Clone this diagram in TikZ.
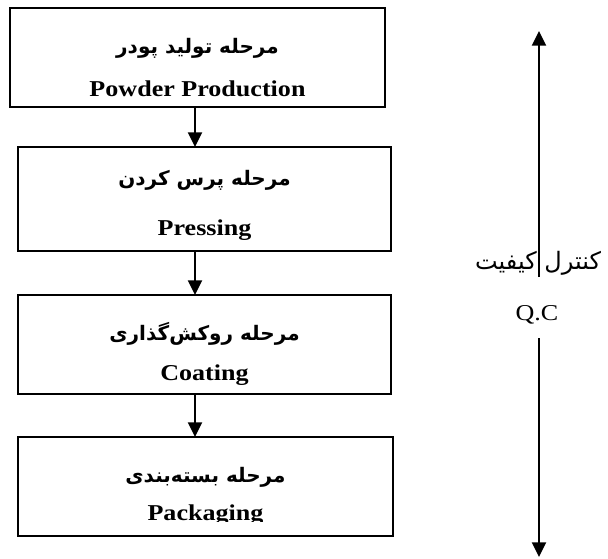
\documentclass[tikz,border=0pt]{standalone}
\usepackage{fontspec}
\setmainfont{Liberation Serif}[FakeStretch=1.15]
\newfontfamily\arabicfont[Script=Arabic]{DejaVu Sans}
\TeXXeTstate=1
\usetikzlibrary{arrows.meta,calc}
\tikzset{
	stagebox/.style={draw, line width=1.6pt, inner sep=0pt, outer sep=0pt},
	fatext/.style={font=\arabicfont\bfseries\fontsize{15}{18}\selectfont, inner sep=0pt},
	entext/.style={font=\bfseries\fontsize{17}{20}\selectfont, inner sep=0pt, anchor=base},
	flow/.style={line width=1.6pt, -{Triangle[width=10.5pt,length=11pt]}},
}

\begin{document}
\begin{tikzpicture}[x=0.75pt, y=-0.75pt]
			%%%%% START %%%%%
			\useasboundingbox (0, 0) rectangle (608, 558);
			
			\node[stagebox, minimum width=281.25pt, minimum height=74.25pt] (powder) at (197.5, 57.5) {};
			\node[stagebox, minimum width=279.75pt, minimum height=78pt] (press) at (204.5, 199) {};
			\node[stagebox, minimum width=279.75pt, minimum height=74.25pt] (coat) at (204.5, 344.5) {};
			\node[stagebox, minimum width=281.25pt, minimum height=74.25pt] (pack) at (205.5, 486.5) {};
			
			\node[fatext] (powderfa) at ($(powder.north)+(0, 40)$) {\beginR مرحله تولید پودر\endR};
			\node[entext] (powderen) at ($(powder.north)+(0, 88)$) {Powder Production};
			
			\node[fatext] (pressfa) at ($(press.north)+(0, 33)$) {\beginR مرحله پرس کردن\endR};
			\node[entext] (pressen) at ($(press.north)+(0, 88)$) {Pressing};
			
			\node[fatext] (coatfa) at ($(coat.north)+(0, 39)$) {\beginR مرحله روکش‌گذاری\endR};
			\node[entext] (coaten) at ($(coat.north)+(0, 85)$) {Coating};
			
			\node[fatext] (packfa) at ($(pack.north)+(0, 40)$) {\beginR مرحله بسته‌بندی\endR};
			\begin{scope}
				\clip ($(pack.north west)+(1, 1)$) rectangle ($(pack.north east)+(-1, 84)$);
				\node[entext] (packen) at ($(pack.north)+(0, 83)$) {Packaging};
			\end{scope}
			
			% arrows between the stages
			\coordinate (spine) at (195, 0);
			\draw[flow] (powder.south -| spine) -- (press.north -| spine);
			\draw[flow] (press.south -| spine) -- (coat.north -| spine);
			\draw[flow] (coat.south -| spine) -- (pack.north -| spine);
			
			% quality control
			\coordinate (qctop) at (539, 31);
			\coordinate (qcup) at (539, 277);
			\coordinate (qcdown) at (539, 338);
			\coordinate (qcbot) at (539, 557);
			\node[font=\arabicfont\fontsize{18}{21}\selectfont, inner sep=0pt] (qcfa) at (538, 263) {\beginR کنترل کیفیت\endR};
			\node[font=\fontsize{17}{20}\selectfont, inner sep=0pt] (qcen) at (537, 315) {Q.C};
			\draw[flow] (qcup) -- (qctop);
			\draw[flow] (qcdown) -- (qcbot);
			
			%%%%% END %%%%%
\end{tikzpicture}
\end{document}
